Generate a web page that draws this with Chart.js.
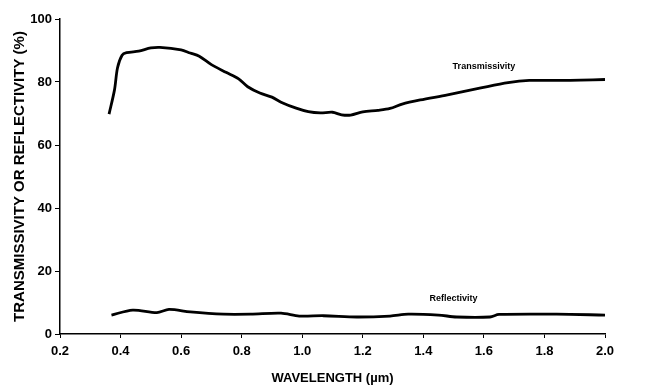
<!DOCTYPE html>
<html>
<head>
<meta charset="utf-8">
<script src="https://cdn.jsdelivr.net/npm/chart.js@4"></script>
<style>
  html, body { margin: 0; padding: 0; background: #fff; }
  canvas { display: block; }
</style>
</head>
<body>
<canvas id="spectrum" width="651" height="386"></canvas>
<script>
// Wavelength (um) and percent values for each curve
const transWavelength = [0.362, 0.38, 0.39, 0.405, 0.42, 0.46, 0.5, 0.53, 0.6, 0.63, 0.66, 0.7, 0.75, 0.79, 0.82, 0.86, 0.9, 0.93, 0.98, 1.02, 1.06, 1.1, 1.13, 1.16, 1.2, 1.25, 1.29, 1.33, 1.39, 1.48, 1.59, 1.68, 1.75, 1.85, 1.92, 2.0];
const transValues = [69.8, 77.5, 84.5, 88.5, 89.3, 89.8, 90.8, 91, 90.2, 89.2, 88.2, 85.5, 83, 81, 78.5, 76.5, 75.2, 73.6, 71.7, 70.6, 70.2, 70.4, 69.6, 69.5, 70.5, 71, 71.6, 73, 74.3, 75.9, 78.1, 79.8, 80.5, 80.5, 80.6, 80.8];

const reflWavelength = [0.37, 0.44, 0.52, 0.56, 0.63, 0.74, 0.83, 0.93, 0.99, 1.07, 1.18, 1.29, 1.35, 1.45, 1.51, 1.62, 1.65, 1.84, 2.0];
const reflValues = [6, 7.6, 6.8, 7.8, 7, 6.3, 6.3, 6.6, 5.7, 5.8, 5.4, 5.7, 6.3, 6, 5.4, 5.4, 6.2, 6.3, 6];

// Curve names and where they are written (data coords)
const curveNames = ['Transmissivity', 'Reflectivity'];
const labelSpots = [[1.6, 84.8], [1.5, 11.4]];

const xTicks = [0.2, 0.4, 0.6, 0.8, 1.0, 1.2, 1.4, 1.6, 1.8, 2.0];
const yTicks = [0, 20, 40, 60, 80, 100];

const toPoints = (xs, ys) => xs.map((x, i) => ({ x, y: ys[i] }));

const tickFont = { family: 'Liberation Sans', size: 13, weight: 'bold' };

// Writes each curve's name next to it
const curveLabels = {
  id: 'curveLabels',
  afterDatasetsDraw(chart) {
    const { ctx, scales } = chart;
    ctx.save();
    ctx.fillStyle = '#000';
    ctx.font = 'bold 9px "Liberation Sans"';
    ctx.textAlign = 'center';
    ctx.textBaseline = 'middle';
    curveNames.forEach((name, i) => {
      const [wx, wy] = labelSpots[i];
      ctx.fillText(name, scales.x.getPixelForValue(wx), scales.y.getPixelForValue(wy));
    });
    ctx.restore();
  }
};

const lineStyle = {
  showLine: true,
  borderColor: '#000',
  borderWidth: 2.8,
  pointRadius: 0,
  tension: 0.3,
  fill: false
};

new Chart(document.getElementById('spectrum'), {
  type: 'scatter',
  data: {
    datasets: [
      { label: curveNames[0], data: toPoints(transWavelength, transValues), ...lineStyle },
      { label: curveNames[1], data: toPoints(reflWavelength, reflValues), ...lineStyle }
    ]
  },
  options: {
    responsive: false,
    animation: false,
    layout: { padding: { top: 19, right: 46, left: 0, bottom: 0 } },
    plugins: { legend: { display: false }, tooltip: { enabled: false } },
    scales: {
      x: {
        type: 'linear',
        min: 0.2,
        max: 2.0,
        afterFit: s => { s.height = 52; },
        afterBuildTicks: s => { s.ticks = xTicks.map(v => ({ value: v })); },
        ticks: {
          color: '#000',
          font: tickFont,
          padding: 6,
          maxRotation: 0,
          callback: v => v.toFixed(1)
        },
        grid: { drawOnChartArea: false, tickLength: 4, color: '#000', lineWidth: 1 },
        border: { color: '#000', width: 1.5 },
        title: {
          display: true,
          text: 'WAVELENGTH (µm)',
          color: '#000',
          font: { family: 'Liberation Sans', size: 13, weight: 'bold' },
          padding: { top: 4, bottom: 0 }
        }
      },
      y: {
        min: 0,
        max: 100,
        afterFit: s => { s.width = 60; },
        afterBuildTicks: s => { s.ticks = yTicks.map(v => ({ value: v })); },
        ticks: { color: '#000', font: tickFont, padding: 3 },
        grid: { drawOnChartArea: false, tickLength: 5, color: '#000', lineWidth: 1 },
        border: { color: '#000', width: 1.5 },
        title: {
          display: true,
          text: 'TRANSMISSIVITY OR REFLECTIVITY (%)',
          color: '#000',
          font: { family: 'Liberation Sans', size: 15, weight: 'bold' },
          padding: { top: 11, bottom: 0 }
        }
      }
    }
  },
  plugins: [curveLabels]
});
</script>
</body>
</html>
